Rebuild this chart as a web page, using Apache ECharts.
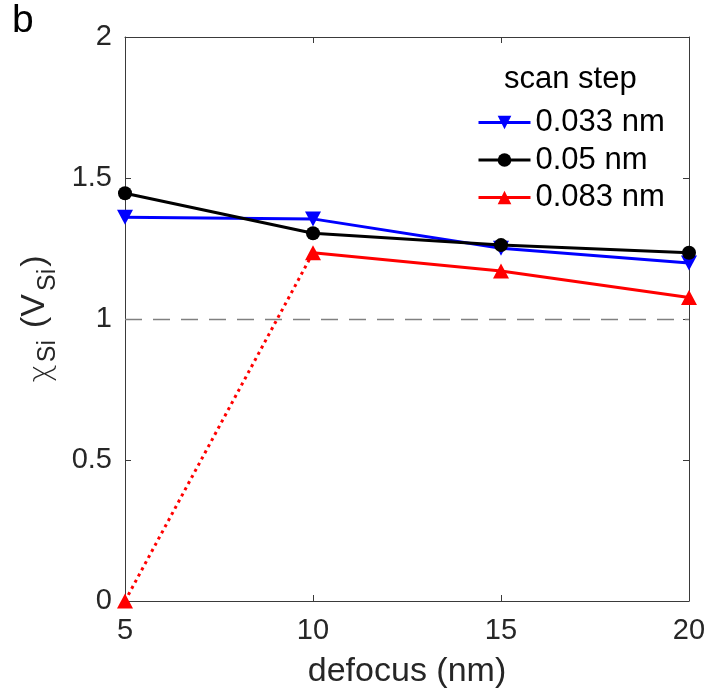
<!DOCTYPE html>
<html>
<head>
<meta charset="utf-8">
<script src="https://cdn.jsdelivr.net/npm/echarts@6/dist/echarts.min.js"></script>
<style>
  html, body { margin: 0; padding: 0; background: #fff; }
  #chart { width: 710px; height: 694px; }
</style>
</head>
<body>
<div id="chart"></div>
<script>
// defocus values (nm) on the x axis
const defocus = [5, 10, 15, 20];
// chi_Si (in units of V_Si) for each scan step
const step033 = [1.361, 1.355, 1.251, 1.199];
const step050 = [1.446, 1.304, 1.262, 1.235];
const step083 = [0, 1.235, 1.170, 1.076];
const seriesNames = ['0.033 nm', '0.05 nm', '0.083 nm'];
const xTicks = [5, 10, 15, 20];
const yTicks = [0, 0.5, 1, 1.5, 2];
const referenceLevel = 1;

const FONT = 'Liberation Sans, Arial, Helvetica, sans-serif';
const AXIS_COLOR = '#3a3a3a';
const LINE_W = 3;
const TRI = [16, 15];

const pairs = (xs, ys) => xs.map((x, i) => [x, ys[i]]);

// the 0.083 nm curve: solid from 10 nm on, dotted between the first two points
const redSolid = pairs(defocus.slice(1), step083.slice(1));
const redDotted = pairs(defocus.slice(0, 2), step083.slice(0, 2)).map((p, i) =>
  i === 0 ? { value: p, symbol: 'triangle', symbolSize: TRI } : { value: p, symbol: 'none' }
);

const chart = echarts.init(document.getElementById('chart'), null, { renderer: 'canvas' });

const axisCommon = {
  axisLine: { show: true, onZero: false, lineStyle: { color: AXIS_COLOR, width: 1 } },
  axisTick: { show: true, inside: true, length: 6, lineStyle: { color: AXIS_COLOR, width: 1 } },
  splitLine: { show: false }
};

const labelBase = { fontFamily: FONT, color: '#262626', verticalAlign: 'bottom', lineHeight: 38 };

chart.setOption({
  animation: false,
  backgroundColor: '#ffffff',
  textStyle: { fontFamily: FONT },
  grid: { left: 125, right: 21, top: 37, bottom: 93, containLabel: false },
  title: {
    text: 'scan step',
    left: 499,
    top: 59,
    textStyle: { fontFamily: FONT, fontSize: 31, fontWeight: 'normal', color: '#000' }
  },
  legend: {
    data: seriesNames,
    orient: 'vertical',
    left: 472,
    top: 102,
    itemWidth: 52,
    itemHeight: 17,
    itemGap: 6.5,
    lineStyle: { width: LINE_W },
    textStyle: { fontFamily: FONT, fontSize: 31, color: '#000' },
    selectedMode: false
  },
  graphic: [
    { type: 'text', left: 12, top: 2, style: { text: 'b', font: '39px ' + FONT, fill: '#000' } }
  ],
  xAxis: [
    Object.assign({}, axisCommon, {
      type: 'value', position: 'bottom', min: xTicks[0], max: xTicks[xTicks.length - 1], interval: 5,
      axisLabel: { fontFamily: FONT, fontSize: 29, color: '#262626', margin: 15 },
      name: 'defocus (nm)', nameLocation: 'middle', nameGap: 54,
      nameTextStyle: { fontFamily: FONT, fontSize: 34, color: '#262626' }
    }),
    Object.assign({}, axisCommon, {
      type: 'value', position: 'top', min: xTicks[0], max: xTicks[xTicks.length - 1], interval: 5,
      axisLabel: { show: false }
    })
  ],
  yAxis: [
    Object.assign({}, axisCommon, {
      type: 'value', position: 'left', min: yTicks[0], max: yTicks[yTicks.length - 1], interval: 0.5,
      axisLabel: { fontFamily: FONT, fontSize: 29, color: '#262626', margin: 13 },
      name: '{c|χ}{s|Si}{o|(V}{s|Si}{e|)}',
      nameLocation: 'middle', nameRotate: 90, nameGap: 66,
      nameTextStyle: {
        color: '#262626',
        rich: {
          c: Object.assign({}, labelBase, { fontFamily: 'DejaVu Sans', fontWeight: 'lighter', fontSize: 31, padding: [0, 2, -6, 0] }),
          o: Object.assign({}, labelBase, { fontSize: 34, padding: [0, 3, 0, 12] }),
          e: Object.assign({}, labelBase, { fontSize: 34, padding: [0, 0, 0, 2] }),
          s: Object.assign({}, labelBase, { fontSize: 25, padding: [0, 0, -9, 0] })
        }
      }
    }),
    Object.assign({}, axisCommon, {
      type: 'value', position: 'right', min: yTicks[0], max: yTicks[yTicks.length - 1], interval: 0.5,
      axisLabel: { show: false }
    })
  ],
  series: [
    {
      name: seriesNames[0], type: 'line', data: pairs(defocus, step033),
      symbol: 'triangle', symbolRotate: 180, symbolSize: TRI,
      itemStyle: { color: '#0000ff' }, lineStyle: { color: '#0000ff', width: LINE_W },
      clip: false, z: 3,
      markLine: {
        silent: true, symbol: 'none', label: { show: false },
        lineStyle: { color: '#808080', width: 1.4, type: [17, 11] },
        data: [{ yAxis: referenceLevel }]
      }
    },
    {
      name: seriesNames[1], type: 'line', data: pairs(defocus, step050),
      symbol: 'circle', symbolSize: 14,
      itemStyle: { color: '#000000' }, lineStyle: { color: '#000000', width: LINE_W },
      clip: false, z: 4
    },
    {
      name: seriesNames[2], type: 'line', data: redSolid,
      symbol: 'triangle', symbolSize: TRI,
      itemStyle: { color: '#ff0000' }, lineStyle: { color: '#ff0000', width: LINE_W },
      clip: false, z: 5
    },
    {
      name: 'dotted 0.083', type: 'line', data: redDotted,
      symbol: 'none',
      itemStyle: { color: '#ff0000' }, lineStyle: { color: '#ff0000', width: 3, type: [3, 4] },
      clip: false, z: 5
    }
  ]
});
</script>
</body>
</html>
